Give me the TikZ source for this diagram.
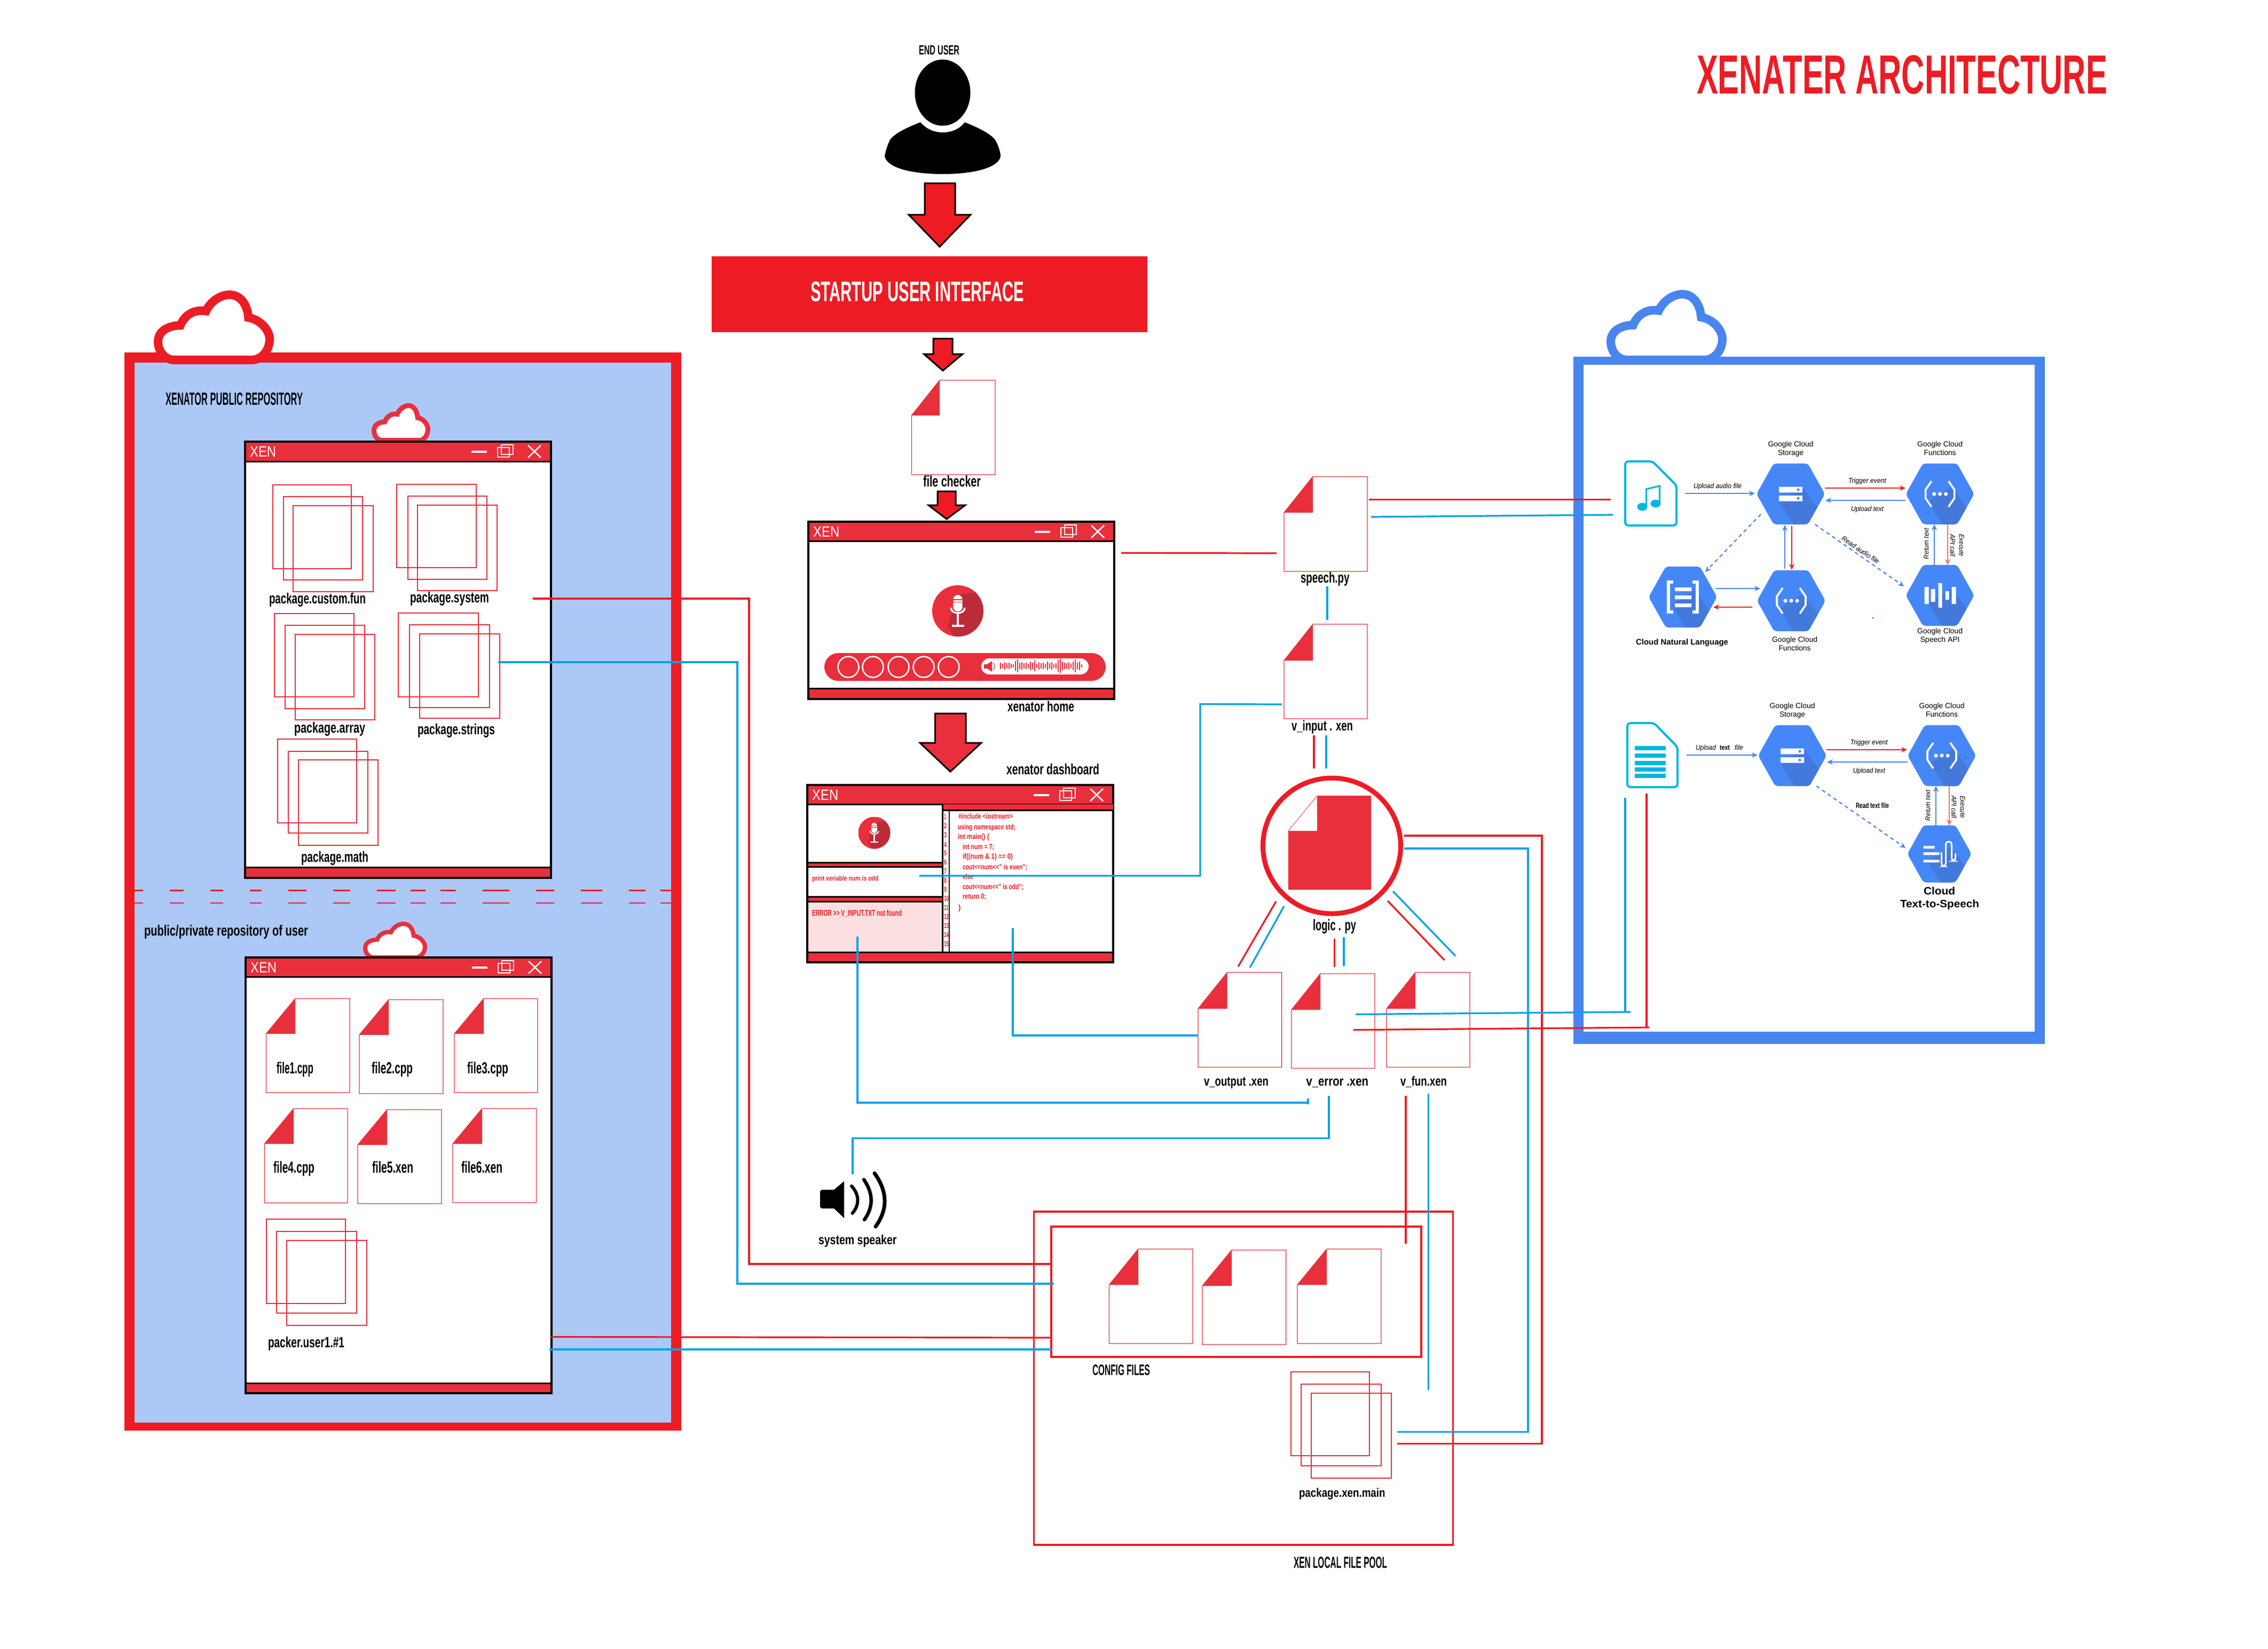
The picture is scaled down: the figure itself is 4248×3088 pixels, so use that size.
\documentclass[tikz,border=0pt]{standalone}
\usepackage{graphicx}
\usepackage{fontspec}
\setmainfont{Liberation Sans}
\usetikzlibrary{arrows.meta}
\definecolor{rd}{HTML}{ED1C24}
\definecolor{soft}{HTML}{E92F3C}
\definecolor{repofill}{HTML}{ABC8F7}
\definecolor{frameblue}{HTML}{4985EE}
\definecolor{wirecol}{HTML}{00A2E8}
\definecolor{iconcol}{HTML}{00B7E0}
\definecolor{hexb}{HTML}{4687F8}
\definecolor{hexd}{HTML}{4479DC}
\definecolor{salm}{HTML}{F0736B}
\definecolor{pinkp}{HTML}{FBDFE1}
\definecolor{micd}{HTML}{BC2C38}
\definecolor{arrb}{HTML}{4A86EE}
\tikzset{
  wr/.style={draw=rd,line width=3.2pt},
  wb/.style={draw=wirecol,line width=3.2pt},
  stk/.style={draw=soft,line width=2pt},
  dsh/.style={draw=rd,line width=2.4pt},
  bluearr/.style={draw=arrb,line width=2.2pt,-{Stealth[length=11pt,width=10pt]}},
  redarr/.style={draw=rd,line width=2.6pt,-{Stealth[length=11pt,width=10pt]}},
  salarr/.style={draw=salm,line width=2.2pt,-{Stealth[length=11pt,width=10pt]}},
  dasharr/.style={draw=arrb,line width=2.2pt,dash pattern=on 7pt off 6pt,-{Stealth[length=11pt,width=10pt]}},
}
% name, x, baseline y, width, size, text
\newcommand\lab[7][]{\node[inner sep=0pt,outer sep=0pt,anchor=base west,#1] (#2) at (#3,#4) {\fontsize{#6}{#6}\selectfont\bfseries\resizebox{#5pt}{\height}{#7}};}
\newcommand\gi[1]{{\mdseries\itshape #1}}
\newcommand\gr[1]{{\mdseries #1}}
% name x0 y0 x1 y1 foldx foldy
\newcommand\pagei[7]{%
  \coordinate (#1) at ({(#2+#4)/2},{(#3+#5)/2});
  \draw[fill=white,draw=soft,line width=1.4pt] (#6,#3)--(#4,#3)--(#4,#5)--(#2,#5)--(#2,#7)--cycle;
  \fill[soft] (#6,#3)--(#6,#7)--(#2,#7)--cycle;}
% name x0 y0 x1 y1 barbottom foottop
\newcommand\xenwin[7]{%
  \coordinate (#1) at ({(#2+#4)/2},{(#3+#5)/2});
  \fill[white] (#2,#3) rectangle (#4,#5);
  \fill[soft] (#2,#3) rectangle (#4,#6);
  \fill[soft] (#2,#7) rectangle (#4,#5);
  \draw[black,line width=3pt] (#2,#6)--(#4,#6) (#2,#7)--(#4,#7);
  \draw[black,line width=3.5pt] (#2,#3) rectangle (#4,#5);
  \node[inner sep=0pt,anchor=base west,white] (#1t) at ({#2+9},{#3+28}) {\fontsize{28}{28}\selectfont\resizebox{49pt}{\height}{XEN}};
  \fill[white] ({#4-149},{#3+17}) rectangle ({#4-120},{#3+21});
  \draw[white,line width=2.6pt] ({#4-100},{#3+11}) rectangle ({#4-78},{#3+29});
  \draw[white,line width=2.6pt] ({#4-93},{#3+6}) rectangle ({#4-71},{#3+24});
  \draw[white,line width=2.6pt] ({#4-43},{#3+7})--({#4-19},{#3+30}) ({#4-43},{#3+30})--({#4-19},{#3+7});}
% name x0 y0 x1 y1 col lw
\newcommand\cloudi[7]{%
  \coordinate (#1) at ({(#2+#4)/2},{(#3+#5)/2});
  \pgfmathsetmacro\cw{#4-#2}\pgfmathsetmacro\ch{#5-#3}
  \begin{scope}[shift={(#2,#3)},x=\cw pt,y=-\ch pt]
  \draw[fill=white,draw=#6,line width=#7pt]
   (0.15,1) .. controls (0.05,1) and (0,0.85) .. (0,0.72)
   .. controls (0,0.55) and (0.1,0.47) .. (0.2,0.47)
   .. controls (0.24,0.3) and (0.33,0.22) .. (0.43,0.25)
   .. controls (0.47,0.1) and (0.56,0) .. (0.64,0)
   .. controls (0.74,0) and (0.8,0.15) .. (0.81,0.35)
   .. controls (0.92,0.38) and (1,0.55) .. (1,0.68)
   .. controls (1,0.85) and (0.93,1) .. (0.84,1) -- cycle;
  \end{scope}}
% shaft x0 x1, top, shoulder, head x0 x1, tip x y
\newcommand\barrow[8]{%
  \draw[fill=#8,draw=black,line width=3pt,line join=miter] (#1,#3)--(#2,#3)--(#2,#4)--(#6,#4)--(#7,\tipy)--(#5,#4)--(#1,#4)--cycle;}
\newcommand\micicon[4]{% name cx cy r
  \begin{scope}[shift={(#2,#3)}]
  \coordinate (#1) at (0,0);
  \begin{scope}
   \clip (0,0) circle (#4pt);
   \fill[soft] (-#4,-#4) rectangle (#4,#4);
   \fill[micd] ({0.1*#4},{-0.65*#4})--({1.2*#4},{-0.8*#4})--({1.2*#4},{1.2*#4})--(0,{1.2*#4})--({-0.4*#4},{0.62*#4})--({-0.25*#4},{0.1*#4})--cycle;
  \end{scope}
  \fill[white,rounded corners={0.17*#4}] ({-0.18*#4},{-0.62*#4}) rectangle ({0.18*#4},{0.02*#4});
  \draw[white,line width={0.07*#4}] ({-0.27*#4},{-0.12*#4}) .. controls ({-0.27*#4},{0.15*#4}) and ({0.27*#4},{0.15*#4}) .. ({0.27*#4},{-0.12*#4});
  \fill[white] ({-0.05*#4},{0.1*#4}) rectangle ({0.05*#4},{0.58*#4});
  \fill[white] ({-0.24*#4},{0.55*#4}) rectangle ({0.24*#4},{0.63*#4});
  \fill[soft] ({-0.18*#4},{-0.45*#4}) rectangle ({0.18*#4},{-0.42*#4});
  \fill[soft] ({-0.18*#4},{-0.36*#4}) rectangle ({0.18*#4},{-0.33*#4});
  \end{scope}}
\newcommand\hexa[5]{% name cx cy hw hh
  \coordinate (#1) at (#2,#3);
  \begin{scope}[shift={(#2,#3)}]
   \begin{scope}
   \clip[rounded corners=5pt] ({-#4/2},{-#5})--({#4/2},{-#5})--(#4,0)--({#4/2},#5)--({-#4/2},#5)--(-#4,0)--cycle;
   \fill[hexb] (-80,-70) rectangle (80,70);
   \fill[hexd] (-22,14)--(22,-13)--(90,80)--(18,80)--cycle;
   \end{scope}
  \end{scope}}
\newcommand\gstore[1]{\begin{scope}[shift={(#1)}]
  \fill[white] (-22,-13.3) rectangle (22,-2.7) (-22,3) rectangle (22,13.7);
  \fill[hexb] (14,-8) circle (2.6pt) (14,8.3) circle (2.6pt);\end{scope}}
\newcommand\gfunc[1]{\begin{scope}[shift={(#1)}]
  \draw[white,line width=3.6pt] (-16,-24)--(-27,-8)--(-27,8)--(-16,24) (16,-24)--(27,-8)--(27,8)--(16,24);
  \fill[white] (-11,0) circle (3.6pt) (0,0) circle (3.6pt) (11,0) circle (3.6pt);\end{scope}}
\begin{document}
\begin{tikzpicture}[x=1pt,y=-1pt]
\useasboundingbox (0,0) rectangle (4248,3088);
\fill[white] (0,0) rectangle (4248,3088);
% ---- left frame
\fill[rd] (233,660) rectangle (1276,2679);
\fill[repofill] (252,679) rectangle (1257,2664);
\foreach \a/\b in {252/268,318/344,394/418,468/490,540/574,624/656,706/741,769/797,825/854,904/954,1004/1038,1088/1128,1178/1209,1237/1257}{
  \draw[dsh] (\a,1667.5)--(\b,1667.5) (\a,1691)--(\b,1691);}
\cloudi{cloudA}{296}{552}{505}{674}{rd}{16}
\lab{repoT}{310}{758}{257}{33}{XENATOR PUBLIC REPOSITORY}
\cloudi{cloudB}{700.5}{759.5}{801.5}{824.5}{soft}{9}
\xenwin{winA}{459}{827}{1032}{1644}{864}{1624}
\foreach \a/\b/\c/\d in {511/908/658/1065,531/930/679/1086,549/947/699/1108,
  743/907/892/1063,764/929/912/1085,782/946/931/1106,
  514/1149/663/1305,534/1171/683/1327,553/1188/702/1348,
  746/1148/896/1305,767/1170/917/1325,786/1187/936/1345,
  520/1384/668/1541,540/1407/689/1560,559/1423/708/1583}{
  \draw[stk] (\a,\b) rectangle (\c,\d);}
\lab{lpcf}{504}{1130}{181}{28}{package.custom.fun}
\lab{lpsy}{768}{1128}{148}{28}{package.system}
\lab{lpar}{551}{1372}{133}{28}{package.array}
\lab{lpst}{782}{1375}{145}{28}{package.strings}
\lab{lpma}{564}{1614}{126}{28}{package.math}
\lab{repoU}{270}{1752}{307}{28}{public/private repository of user}
\cloudi{cloudC}{684}{1730}{796}{1793}{soft}{8}
\xenwin{winB}{460}{1793}{1033}{2609}{1829}{2590}
\pagei{f1}{498.5}{1870}{655}{2046}{553}{1936}
\pagei{f2}{673}{1872}{830}{2048}{728}{1938}
\pagei{f3}{851}{1870}{1007}{2046}{906}{1936}
\pagei{f4}{495.5}{2076}{651}{2252.6}{550}{2142}
\pagei{f5}{670}{2078}{827}{2254}{725}{2144}
\pagei{f6}{848}{2076}{1004.5}{2252}{903}{2142}
\lab{lf1}{518}{2010}{69}{30}{file1.cpp}
\lab{lf2}{696}{2010}{77}{30}{file2.cpp}
\lab{lf3}{875}{2010}{77}{30}{file3.cpp}
\lab{lf4}{512}{2196}{77}{30}{file4.cpp}
\lab{lf5}{697}{2196}{77}{30}{file5.xen}
\lab{lf6}{864}{2196}{77}{30}{file6.xen}
\foreach \a/\b/\c/\d in {498.5/2283/647/2440.6,517.5/2306/668/2459,537/2323/687/2482,
  2418/2569/2565/2726,2437/2592/2587/2745,2456/2609/2606/2768}{
  \draw[stk] (\a,\b) rectangle (\c,\d);}
\lab{lpk}{502}{2523}{143}{28}{packer.user1.\#1}
% ---- top
\lab{title}{3178}{176}{769}{103}{\color{rd}XENATER ARCHITECTURE}
\lab{endu}{1721}{103}{76}{25}{END USER}
\fill[black] (1765.5,173.5) ellipse (52pt and 62pt);
\coordinate (userbody) at (1766,280);
\fill[black] (1724,229) .. controls (1735,242) and (1750,248) .. (1766,248) .. controls (1782,248) and (1797,242) .. (1807,229) .. controls (1830,238) and (1855,250) .. (1864,262) .. controls (1870,272) and (1874,285) .. (1874,293) .. controls (1870,315) and (1820,326) .. (1766,326) .. controls (1710,326) and (1662,315) .. (1657,293) .. controls (1658,285) and (1662,272) .. (1667,262) .. controls (1675,250) and (1700,238) .. (1724,229) -- cycle;
\def\tipy{462}\barrow{1732}{1789}{343}{402}{1702}{1818}{1760}{rd}
\fill[rd] (1333,480) rectangle (2149,621.5);
\lab{startui}{1518}{564}{400}{53}{\color{white}STARTUP USER INTERFACE}
\def\tipy{694}\barrow{1748}{1784}{634}{663}{1730.5}{1803}{1766}{rd}
\pagei{fchk}{1707.5}{712}{1864}{889}{1760}{778}
\lab{lchk}{1729}{911}{108}{29}{file checker}
\def\tipy{972}\barrow{1756}{1790}{920}{946}{1739}{1808}{1773}{rd}
% ---- home window
\xenwin{winC}{1514}{977}{2087}{1309}{1013}{1289}
\micicon{micA}{1794}{1144}{48}
\fill[soft,rounded corners=26pt] (1544,1223) rectangle (2071,1275);
\foreach \c in {1589,1635,1683,1730,1777}{\draw[white,line width=2.6pt] (\c,1249) circle (19.5pt);}
\fill[white,rounded corners=15pt] (1838,1233) rectangle (2039,1263);
\fill[soft] (1843,1244) rectangle (1849,1252) (1849,1244)--(1858,1238)--(1858,1258)--(1849,1252)--cycle;
\draw[soft,line width=1pt] (1860,1241) .. controls (1864,1246) and (1864,1250) .. (1860,1255);
\foreach \i/\h in {0/6,1/4,2/7,3/5,4/6,5/4,6/3,7/9,8/12,9/6,10/7,11/5,12/6,13/4,14/8,15/6,16/10,17/4,18/7,19/5,20/6,21/4,22/8,23/5,24/7,25/3,26/5,27/11,28/13,29/8,30/6,31/5,32/7,33/4,34/8,35/12,36/6,37/8,38/3}{
  \draw[soft,line width=1.3pt] ({1874+4*\i},{1247-\h})--({1874+4*\i},{1247+\h});}
\lab{lhome}{1887}{1332}{125}{27}{xenator home}
\def\tipy{1445}\barrow{1751.5}{1809}{1336}{1391}{1723}{1838}{1780}{soft}
\lab{ldash}{1885}{1450.6}{174}{28}{xenator dashboard}
% ---- dashboard window
\xenwin{winD}{1512}{1470}{2085}{1802}{1506}{1783}
\fill[soft] (1765,1506) rectangle (2085,1517);
\fill[pinkp] (1514,1688) rectangle (1765,1781.5);
\fill[soft] (1514,1615) rectangle (1765,1623) (1514,1679) rectangle (1765,1688);
\draw[black,line width=3pt] (1513,1615)--(1765,1615) (1513,1623)--(1767,1623) (1513,1679)--(1765,1679) (1513,1688)--(1765,1688);
\draw[black,line width=3pt] (1765,1506)--(1765,1785) (1765,1517)--(2086,1517);
\draw[black,line width=1.2pt] (1778,1517)--(1778,1783);
\micicon{micB}{1637.5}{1559.5}{30}
\foreach \n/\y/\w in {1/1534/4,2/1551/5,3/1568/5,4/1586/5,5/1602/5,6/1619/5,7/1636/5,8/1653/5,9/1670/5,10/1687/9,11/1704/8,12/1721/9,13/1738/9,14/1755/9,15/1772/9}{
  \node[inner sep=0pt,anchor=base west] (ln\n) at (1768,\y) {\fontsize{14}{14}\selectfont\bfseries\resizebox{\w pt}{\height}{\color{rd}\n}};}
\lab{cd1}{1795}{1533}{102}{14}{\color{rd}\#include <iostream>}
\lab{cd2}{1794}{1553}{108}{14}{\color{rd}using namespace std;}
\lab{cd3}{1794}{1571}{59}{14}{\color{rd}int main() \{}
\lab{cd4}{1803}{1590}{59}{14}{\color{rd}int num = 7;}
\lab{cd5}{1803}{1608}{94}{14}{\color{rd}if((num \& 1) == 0)}
\lab{cd6}{1803}{1628}{121}{14}{\color{rd}cout<{}<num<{}<" is even";}
\lab{cd7}{1803}{1646}{20}{14}{\color{rd}else}
\lab{cd8}{1803}{1665}{114}{14}{\color{rd}cout<{}<num<{}<" is odd";}
\lab{cd9}{1803}{1683}{44}{14}{\color{rd}return 0;}
\lab{cd10}{1795}{1704}{4.5}{14}{\color{rd}\}}
\lab{lprint}{1521}{1649}{124.5}{13}{\color{rd}print veriable num is odd}
\lab{lerr}{1521}{1715}{168}{16}{\color{rd}ERROR >{}> V\_INPUT.TXT not found}
% ---- speaker
\coordinate (spk) at (1560,2246);
\fill[black,rounded corners=4pt] (1536,2228) rectangle (1566,2263);
\fill[black] (1562,2228)--(1581,2212)--(1581,2281)--(1562,2263)--cycle;
\draw[black,line width=6pt,line cap=round] (1595,2221) .. controls (1610,2238) and (1610,2256) .. (1596.5,2272);
\draw[black,line width=6.5pt,line cap=round] (1618,2209) .. controls (1636,2235) and (1636,2260) .. (1619,2284);
\draw[black,line width=7pt,line cap=round] (1638,2197) .. controls (1663,2232) and (1663,2265) .. (1640,2297);
\lab{lspk}{1533}{2330}{146.5}{25}{system speaker}
% ---- v_ files
\pagei{fsp}{2405}{892.5}{2561}{1070}{2459}{960}
\lab{lsp}{2436}{1091}{91.5}{28}{speech.py}
\pagei{fvi}{2405}{1169}{2561}{1346}{2459}{1237}
\lab{lvi}{2419}{1368}{115}{27}{v\_input . xen}
\coordinate (logiccirc) at (2494.5,1584);
\draw[rd,line width=9pt,fill=white] (logiccirc) ellipse (129pt and 127pt);
\fill[soft] (2467,1490)--(2568,1490)--(2568,1666)--(2413,1666)--(2413,1556)--(2467,1556)--cycle;
\draw[soft,line width=0.8pt] (2413,1556)--(2467,1490);
\lab{llogic}{2459}{1742}{81}{29}{logic . py}
\pagei{fvo}{2244}{1821}{2400.6}{1998.5}{2298.6}{1889}
\pagei{fve}{2419}{1823.5}{2575}{2000.5}{2473}{1891}
\pagei{fvf}{2597}{1821}{2753}{1998.5}{2651}{1889}
\lab{lvo}{2255}{2033}{121}{25}{v\_output .xen}
\lab{lve}{2446.5}{2033}{116.5}{25}{v\_error .xen}
\lab{lvf}{2623}{2033}{87}{25}{v\_fun.xen}
% ---- local pool
\draw[rd,line width=3.4pt] (1936.5,2269) rectangle (2721.5,2893);
\draw[rd,line width=3.4pt] (1969,2297) rectangle (2662,2541);
\pagei{p1}{2077.5}{2339}{2234}{2516}{2132}{2406}
\pagei{p2}{2252}{2341}{2408.6}{2518}{2307}{2408}
\pagei{p3}{2430}{2339}{2587}{2516}{2485}{2406}
\lab{lcfg}{2046}{2575}{108}{28.5}{CONFIG FILES}
\lab{lpxm}{2433}{2803}{161.5}{23}{package.xen.main}
\lab{lpool}{2423}{2936}{175}{30}{XEN LOCAL FILE POOL}
% ---- right frame
\fill[frameblue] (2947,668) rectangle (3830,1955);
\fill[white] (2966,683) rectangle (3811,1932);
\cloudi{cloudD}{3017}{551}{3226}{674}{frameblue}{16}
% music icon
\coordinate (music) at (3092,924);
\draw[iconcol,line width=4pt,rounded corners=6pt] (3044,864)--(3095,864)--(3140,909)--(3140,984)--(3044,984)--cycle;
\fill[iconcol] (3076,949) ellipse (9.5pt and 7.5pt) (3101,943) ellipse (9.5pt and 7.5pt);
\draw[iconcol,line width=3.2pt] (3083.5,947)--(3083.5,916)--(3108.4,910)--(3108.4,943);
% doc icon
\coordinate (docicon) at (3095,1414);
\draw[iconcol,line width=4pt,rounded corners=6pt] (3048,1354)--(3098,1354)--(3142,1399)--(3142,1474)--(3048,1474)--cycle;
\foreach \a/\b in {1397/1405,1411/1419,1425/1433,1437/1445,1449/1457}{\fill[iconcol] (3062,\a) rectangle (3120,\b);}
% hexes upper
\hexa{hS}{3354}{925}{64}{57}\gstore{hS}
\hexa{hF}{3633.6}{925}{64}{57}\gfunc{hF}
\hexa{hG}{3355}{1125}{64}{57}\gfunc{hG}
\hexa{hN}{3152}{1118}{64}{57}
\begin{scope}[shift={(hN)}]
 \draw[white,line width=6pt] (-18,-28)--(-27,-28)--(-27,28)--(-18,28) (18,-28)--(27,-28)--(27,28)--(18,28);
 \fill[white] (-15,-18) rectangle (16,-11) (-15,-3) rectangle (16,4) (-15,12) rectangle (16,19);
\end{scope}
\hexa{hP}{3633.6}{1115}{64}{57}
\begin{scope}[shift={(hP)}]
 \fill[white] (-29,-16) rectangle (-21,16) (-17,-12) rectangle (-9,12) (-3,-23) rectangle (4,23) (10,-8) rectangle (17,8) (22,-16) rectangle (30,16);
\end{scope}
\lab[anchor=base]{gl1}{3354}{836}{85}{14}{\gr{Google Cloud}}
\lab[anchor=base]{gl2}{3354}{852}{48}{14}{\gr{Storage}}
\lab[anchor=base]{gl3}{3633.6}{836}{85}{14}{\gr{Google Cloud}}
\lab[anchor=base]{gl4}{3633.6}{852}{60}{14}{\gr{Functions}}
\lab[anchor=base]{gl5}{3361.5}{1202}{85}{14}{\gr{Google Cloud}}
\lab[anchor=base]{gl6}{3361.5}{1218}{60}{14}{\gr{Functions}}
\lab[anchor=base]{gl7}{3633.6}{1186}{85}{14}{\gr{Google Cloud}}
\lab[anchor=base]{gl8}{3633.6}{1202}{74}{14}{\gr{Speech API}}
\lab{gl9}{3064}{1207}{173}{15}{Cloud Natural Language}
\lab{ga1}{3172}{914}{90}{13}{\gi{Upload audio file}}
\lab{ga2}{3462}{904}{71}{13}{\gi{Trigger event}}
\lab{ga3}{3467}{957}{61}{13}{\gi{Upload text}}
\lab[rotate=90,anchor=center]{ga4}{3608}{1018}{58}{13}{\gi{Return text}}
\lab[rotate=-90,anchor=center]{ga5}{3674}{1021}{42}{13}{\gi{Execute}}
\lab[rotate=-90,anchor=center]{ga6}{3657.5}{1021}{42}{13}{\gi{API call}}
\lab[rotate=-34,anchor=center]{ga7}{3485}{1030}{82}{13}{\gi{Read audio file}}
\coordinate (a1) at (3156,924); \coordinate (a2) at (3287,924); \draw[bluearr] (a1)--(a2);
\coordinate (a3) at (3418,914); \coordinate (a4) at (3569,914); \draw[redarr] (a3)--(a4);
\coordinate (a5) at (3569,937); \coordinate (a6) at (3419,937); \draw[bluearr] (a5)--(a6);
\coordinate (a7) at (3298,963); \coordinate (a8) at (3194,1071); \draw[dasharr] (a7)--(a8);
\coordinate (a9) at (3399.5,982); \coordinate (a10) at (3566,1098); \draw[dasharr] (a9)--(a10);
\coordinate (a11) at (3343,1065); \coordinate (a12) at (3343,983); \draw[bluearr] (a11)--(a12);
\coordinate (a13) at (3356,985); \coordinate (a14) at (3356,1067); \draw[redarr] (a13)--(a14);
\coordinate (a15) at (3213,1102); \coordinate (a16) at (3297,1102); \draw[bluearr] (a15)--(a16);
\coordinate (a17) at (3282,1137); \coordinate (a18) at (3209,1137); \draw[redarr] (a17)--(a18);
\coordinate (a19) at (3623,1058); \coordinate (a20) at (3623,982); \draw[bluearr] (a19)--(a20);
\coordinate (a21) at (3648,982); \coordinate (a22) at (3648,1058); \draw[salarr] (a21)--(a22);
\fill[rd] (3508,1157) circle (1.6pt);
% hexes lower
\hexa{hS2}{3357}{1415}{64}{57}\gstore{hS2}
\hexa{hF2}{3637}{1415}{64}{57}\gfunc{hF2}
\hexa{hT}{3632.5}{1599}{60}{53.5}
\begin{scope}[shift={(hT)}]
 \fill[white] (-30,-15) rectangle (-9,-10) (-30,-3) rectangle (0,2) (-30,11) rectangle (0,16);
 \draw[white,line width=3pt,rounded corners=5pt] (4,-3)--(4,23)--(12,23)--(12,-23)--(23,-23)--(23,13)--(30,13)--(30,-1);
\end{scope}
\lab[anchor=base]{gm1}{3357}{1326}{85}{14}{\gr{Google Cloud}}
\lab[anchor=base]{gm2}{3357}{1342}{48}{14}{\gr{Storage}}
\lab[anchor=base]{gm3}{3637}{1326}{85}{14}{\gr{Google Cloud}}
\lab[anchor=base]{gm4}{3637}{1342}{60}{14}{\gr{Functions}}
\lab{gb1}{3176}{1404}{38}{13}{\gi{Upload}}
\lab{gb2}{3221}{1404}{19}{13}{text}
\lab{gb3}{3249}{1404}{16}{13}{\gi{file}}
\lab{gb4}{3465.6}{1394}{70}{13}{\gi{Trigger event}}
\lab{gb5}{3470.5}{1447}{60.5}{13}{\gi{Upload text}}
\lab{gb6}{3476}{1513}{62}{14}{Read text file}
\lab[rotate=90,anchor=center]{gb7}{3611}{1508}{58}{13}{\gi{Return text}}
\lab[rotate=-90,anchor=center]{gb8}{3676}{1511}{42}{13}{\gi{Execute}}
\lab[rotate=-90,anchor=center]{gb9}{3660}{1511}{42}{13}{\gi{API call}}
\lab[anchor=base]{gb10}{3632.5}{1675}{59}{20}{Cloud}
\lab[anchor=base]{gb11}{3633}{1699}{148}{20}{Text-to-Speech}
\coordinate (b1) at (3159,1414); \coordinate (b2) at (3292,1414); \draw[bluearr] (b1)--(b2);
\coordinate (b3) at (3421,1404); \coordinate (b4) at (3572,1404); \draw[redarr] (b3)--(b4);
\coordinate (b5) at (3573,1427); \coordinate (b6) at (3422,1427); \draw[bluearr] (b5)--(b6);
\coordinate (b7) at (3402,1472); \coordinate (b8) at (3569,1588); \draw[dasharr] (b7)--(b8);
\coordinate (b9) at (3626,1546); \coordinate (b10) at (3626,1472); \draw[bluearr] (b9)--(b10);
\coordinate (b11) at (3651,1472); \coordinate (b12) at (3651,1546); \draw[salarr] (b11)--(b12);
% ---- wires
\coordinate (w1a) at (998,1121); \coordinate (w1b) at (1403,2367); \coordinate (w1c) at (1968,2367);
\draw[wr] (w1a) -| (w1b) -- (w1c);
\coordinate (w2a) at (933,1240); \coordinate (w2b) at (1381,2404); \coordinate (w2c) at (1974,2404);
\draw[wb] (w2a) -| (w2b) -- (w2c);
\coordinate (w3a) at (1032,2503.5); \coordinate (w3b) at (1968,2505); \draw[wr] (w3a)--(w3b);
\coordinate (w4a) at (1029,2527); \coordinate (w4b) at (1970,2527); \draw[wb] (w4a)--(w4b);
\coordinate (w5a) at (2100,1035.5); \coordinate (w5b) at (2391,1036); \draw[wr] (w5a)--(w5b);
\coordinate (w6a) at (2564,935.5); \coordinate (w6b) at (3017,935.5); \draw[wr] (w6a)--(w6b);
\coordinate (w7a) at (2568,968); \coordinate (w7b) at (3021,964); \draw[wb] (w7a)--(w7b);
\coordinate (w8a) at (2486,1098); \coordinate (w8b) at (2486,1161); \draw[wb] (w8a)--(w8b);
\coordinate (w9a) at (2461,1377); \coordinate (w9b) at (2461,1439); \draw[wr] (w9a)--(w9b);
\coordinate (w10a) at (2484,1377); \coordinate (w10b) at (2484,1439); \draw[wb] (w10a)--(w10b);
\coordinate (w11a) at (1722,1640); \coordinate (w11b) at (2248,1318.5); \coordinate (w11c) at (2401,1319);
\draw[wb] (w11a) -| (w11b) -- (w11c);
\coordinate (w12a) at (1606,1754); \coordinate (w12b) at (2450,2065); \coordinate (w12c) at (2450,2057); \coordinate (w12d) at (2450,2068);
\draw[wb] (w12a) |- (w12b); \draw[wb] (w12c)--(w12d);
\coordinate (w13a) at (1897,1738); \coordinate (w13b) at (2243,1939); \draw[wb] (w13a) |- (w13b);
\coordinate (w14a) at (2489,2052); \coordinate (w14b) at (1597,2131.6); \coordinate (w14c) at (1597,2199);
\draw[wb] (w14a) |- (w14b) -- (w14c);
\coordinate (w15a) at (2390,1688); \coordinate (w15b) at (2319,1810); \draw[wr] (w15a)--(w15b);
\coordinate (w16a) at (2405,1697); \coordinate (w16b) at (2341,1812); \draw[wb] (w16a)--(w16b);
\coordinate (w17a) at (2499.5,1758); \coordinate (w17b) at (2499.5,1811); \draw[wr] (w17a)--(w17b);
\coordinate (w18a) at (2517,1755); \coordinate (w18b) at (2517,1809); \draw[wb] (w18a)--(w18b);
\coordinate (w19a) at (2599,1687); \coordinate (w19b) at (2705.5,1798); \draw[wr] (w19a)--(w19b);
\coordinate (w20a) at (2609,1669); \coordinate (w20b) at (2726,1790); \draw[wb] (w20a)--(w20b);
\coordinate (w21a) at (2630,1565); \coordinate (w21b) at (2888,2703.6); \coordinate (w21c) at (2617,2703.6);
\draw[wr] (w21a) -| (w21b) -- (w21c);
\coordinate (w22a) at (2630,1589); \coordinate (w22b) at (2862,2681.6); \coordinate (w22c) at (2617,2681.6);
\draw[wb] (w22a) -| (w22b) -- (w22c);
\coordinate (w23a) at (2539,1899.5); \coordinate (w23b) at (3054,1895); \coordinate (w23c) at (3044,1494); \coordinate (w23d) at (3044,1896);
\draw[wb] (w23a)--(w23b); \draw[wb] (w23c)--(w23d);
\coordinate (w24a) at (2535,1928.6); \coordinate (w24b) at (3089,1924); \coordinate (w24c) at (3084,1486); \coordinate (w24d) at (3084,1925);
\draw[wr] (w24a)--(w24b); \draw[wr] (w24c)--(w24d);
\coordinate (w25a) at (2633,2052); \coordinate (w25b) at (2633,2329); \draw[wr] (w25a)--(w25b);
\coordinate (w26a) at (2675.5,2048); \coordinate (w26b) at (2675.5,2603); \draw[wb] (w26a)--(w26b);
\end{tikzpicture}
\end{document}
